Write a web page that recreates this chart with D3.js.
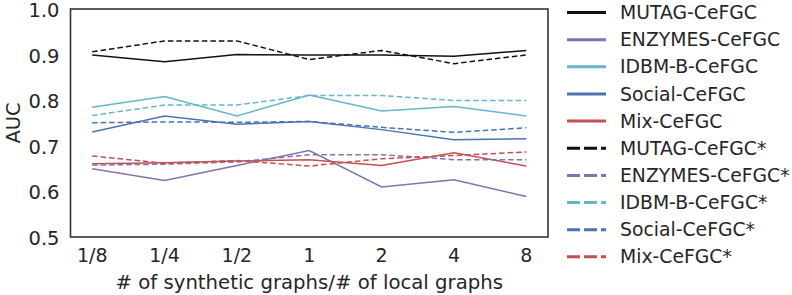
<!DOCTYPE html>
<html>
<head>
<meta charset="UTF-8">
<title>AUC vs synthetic graph ratio</title>
<script src="https://d3js.org/d3.v7.min.js"></script>
<style>
    body { margin: 0; background: #fff; }
    text { font-family: "DejaVu Sans", sans-serif; fill: #262626; }
</style>
</head>
<body>
<svg width="792" height="295"></svg>
<script>
// tick labels along the x axis
const ratios = ["1/8", "1/4", "1/2", "1", "2", "4", "8"];
const yTicks = [0.5, 0.6, 0.7, 0.8, 0.9, 1.0];

// solid lines
const mutag   = [0.900, 0.885, 0.901, 0.900, 0.900, 0.897, 0.910];
const enzymes = [0.650, 0.624, 0.657, 0.690, 0.610, 0.626, 0.589];
const imdb    = [0.785, 0.809, 0.766, 0.812, 0.777, 0.787, 0.766];
const social  = [0.731, 0.766, 0.748, 0.754, 0.736, 0.714, 0.716];
const mix     = [0.661, 0.663, 0.667, 0.670, 0.657, 0.685, 0.656];
// dashed lines (*)
const mutagS   = [0.907, 0.931, 0.931, 0.890, 0.910, 0.881, 0.900];
const enzymesS = [0.658, 0.660, 0.665, 0.681, 0.681, 0.670, 0.670];
const imdbS    = [0.767, 0.790, 0.790, 0.811, 0.811, 0.800, 0.800];
const socialS  = [0.751, 0.753, 0.752, 0.754, 0.741, 0.730, 0.740];
const mixS     = [0.678, 0.662, 0.668, 0.656, 0.672, 0.679, 0.687];

const names = ["MUTAG-CeFGC", "ENZYMES-CeFGC", "IDBM-B-CeFGC", "Social-CeFGC", "Mix-CeFGC"];
const colors = ["#111111", "#8172B2", "#64B5CD", "#4C72B0", "#C44E52"];

const series = [
    {name: names[0], values: mutag, color: colors[0], dashed: false},
    {name: names[1], values: enzymes, color: colors[1], dashed: false},
    {name: names[2], values: imdb, color: colors[2], dashed: false},
    {name: names[3], values: social, color: colors[3], dashed: false},
    {name: names[4], values: mix, color: colors[4], dashed: false},
    {name: names[0] + "*", values: mutagS, color: colors[0], dashed: true},
    {name: names[1] + "*", values: enzymesS, color: colors[1], dashed: true},
    {name: names[2] + "*", values: imdbS, color: colors[2], dashed: true},
    {name: names[3] + "*", values: socialS, color: colors[3], dashed: true},
    {name: names[4] + "*", values: mixS, color: colors[4], dashed: true}
];

const svg = d3.select("svg");
const plot = {left: 70.5, right: 548, top: 9, bottom: 237};

var x = d3.scaleLinear()
    .domain([-0.3, ratios.length - 1 + 0.3])
    .range([plot.left, plot.right]);
var y = d3.scaleLinear()
    .domain([0.5, 1.0])
    .range([plot.bottom, plot.top + 0.5]);

// tick labels (no tick marks, seaborn white style)
svg.append("g").selectAll("text")
    .data(yTicks)
    .enter().append("text")
    .attr("x", plot.left - 11)
    .attr("y", d => y(d) + 1)
    .attr("dy", "0.35em")
    .attr("text-anchor", "end")
    .style("font-size", "19.5px")
    .text(d => d.toFixed(1));

svg.append("g").selectAll("text")
    .data(ratios)
    .enter().append("text")
    .attr("x", (d, i) => x(i))
    .attr("y", 262)
    .attr("text-anchor", "middle")
    .style("font-size", "19px")
    .text(d => d);

var line = d3.line()
    .x((d, i) => x(i))
    .y(d => y(d));

svg.append("g").selectAll("path")
    .data(series)
    .enter().append("path")
    .attr("d", d => line(d.values))
    .attr("fill", "none")
    .attr("stroke", d => d.color)
    .attr("stroke-width", 1.5)
    .attr("stroke-dasharray", d => d.dashed ? "5.5,3" : null);

// frame
svg.append("rect")
    .attr("x", plot.left)
    .attr("y", plot.top)
    .attr("width", plot.right - plot.left)
    .attr("height", plot.bottom - plot.top)
    .attr("fill", "none")
    .attr("stroke", "#333")
    .attr("stroke-width", 1.6);

// axis titles
svg.append("text")
    .attr("x", (plot.left + plot.right) / 2)
    .attr("y", 289)
    .attr("text-anchor", "middle")
    .style("font-size", "19.7px")
    .text("# of synthetic graphs/# of local graphs");

svg.append("text")
    .attr("transform", "translate(20," + (plot.top + plot.bottom) / 2 + ") rotate(-90)")
    .attr("text-anchor", "middle")
    .style("font-size", "19.5px")
    .text("AUC");

// legend
var legend = svg.append("g").selectAll("g")
    .data(series)
    .enter().append("g")
    .attr("transform", (d, i) => "translate(567," + (12.5 + i * 27.15) + ")");

legend.append("line")
    .attr("x1", 0).attr("x2", 39)
    .attr("stroke", d => d.color)
    .attr("stroke-width", 3)
    .attr("stroke-dasharray", d => d.dashed ? "13,4" : null);

legend.append("text")
    .attr("x", 53)
    .attr("dy", "0.35em")
    .style("font-size", "18.8px")
    .text(d => d.name);
</script>
</body>
</html>
